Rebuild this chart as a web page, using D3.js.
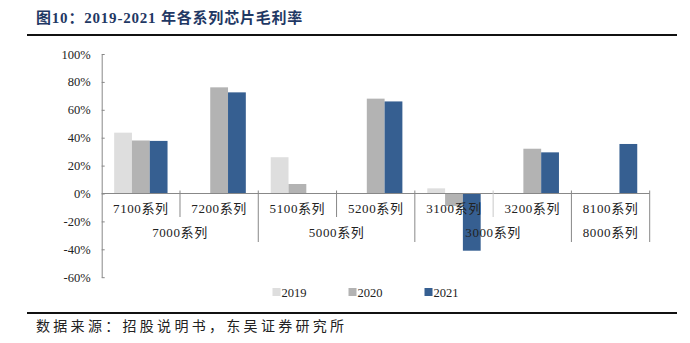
<!DOCTYPE html>
<html>
<head>
<meta charset="utf-8">
<script src="https://cdn.jsdelivr.net/npm/d3@7/dist/d3.min.js"></script>
<style>
  html, body { margin: 0; padding: 0; background: #fff; }
  svg { display: block; }
  text { font-family: "Liberation Serif", "Noto Sans CJK SC", serif; }
</style>
</head>
<body>
<svg id="chart" width="690" height="343"></svg>
<script>
// Gross margin by chip series, 2019-2021
const categories = ["7100系列", "7200系列", "5100系列", "5200系列", "3100系列", "3200系列", "8100系列"];
const groups = [
  { name: "7000系列", from: 0, to: 1 },
  { name: "5000系列", from: 2, to: 3 },
  { name: "3000系列", from: 4, to: 5 },
  { name: "8000系列", from: 6, to: 6 }
];
const years = ["2019", "2020", "2021"];
const values2019 = [0.436, null, 0.26, null, 0.037, null, null];
const values2020 = [0.38, 0.761, 0.068, 0.68, -0.09, 0.321, null];
const values2021 = [0.377, 0.725, null, 0.66, -0.41, 0.295, 0.355];
const yTicks = [-0.6, -0.4, -0.2, 0, 0.2, 0.4, 0.6, 0.8, 1.0];
const colors = ["#dedede", "#b3b3b3", "#365f91"];

const series = [values2019, values2020, values2021];
const svg = d3.select("#chart");

// Title and rules
svg.append("text")
  .attr("x", 36).attr("y", 23)
  .attr("font-size", 15).attr("font-weight", "bold")
  .attr("fill", "#1f3864")
  .attr("letter-spacing", 0.8)
  .text("图10：2019-2021 年各系列芯片毛利率");
svg.append("line").attr("x1", 27).attr("x2", 677).attr("y1", 35).attr("y2", 35)
  .attr("stroke", "#111").attr("stroke-width", 2);
svg.append("line").attr("x1", 27).attr("x2", 677).attr("y1", 313).attr("y2", 313)
  .attr("stroke", "#111").attr("stroke-width", 2);
svg.append("text")
  .attr("x", 36).attr("y", 331)
  .attr("font-size", 14).attr("letter-spacing", 3.3)
  .attr("fill", "#222")
  .text("数据来源：招股说明书，东吴证券研究所");

// Scales
const x = d3.scaleBand().domain(categories).range([101.7, 649.7]).padding(0);
const xi = d3.scaleBand().domain(years).range([0, x.bandwidth()]).paddingInner(0).paddingOuter(0.7);
const y = d3.scaleLinear().domain([-0.6, 1.0]).range([277.2, 54]);

// Y axis (ASCII hyphen for negatives)
const pct = v => `${Math.round(v * 100)}%`;
const yAxis = d3.axisLeft(y).tickValues(yTicks).tickFormat(pct).tickSizeInner(-3).tickSizeOuter(0).tickPadding(11);
const gy = svg.append("g").attr("transform", `translate(${x.range()[0]},0)`).call(yAxis);
gy.attr("font-family", null);
gy.select(".domain").attr("stroke", "#888");
gy.selectAll(".tick line").attr("stroke", "#888");
gy.selectAll(".tick text").attr("font-size", 12.5).attr("fill", "#222")
  .style("font-family", "'Liberation Serif', serif");

// Bars
years.forEach((yr, si) => {
  svg.append("g").selectAll("rect")
    .data(categories.map((c, i) => ({ c, v: series[si][i] })).filter(d => d.v !== null))
    .join("rect")
    .attr("x", d => x(d.c) + xi(yr))
    .attr("width", xi.bandwidth())
    .attr("y", d => y(Math.max(0, d.v)))
    .attr("height", d => Math.abs(y(d.v) - y(0)))
    .attr("fill", colors[si]);
});

// Zero baseline
svg.append("line")
  .attr("x1", x.range()[0]).attr("x2", x.range()[1])
  .attr("y1", y(0)).attr("y2", y(0))
  .attr("stroke", "#888");

// Category separators: short between series, long between groups
const y0 = y(0);
categories.forEach((c, i) => {
  if (i === 0) return;
  const isGroupEdge = groups.some(g => g.from === i);
  svg.append("line")
    .attr("x1", x(c)).attr("x2", x(c))
    .attr("y1", y0 - 3).attr("y2", isGroupEdge ? 242 : 217)
    .attr("stroke", i === 5 ? "#c8c8c8" : "#888");
});
svg.append("line")
  .attr("x1", x.range()[1]).attr("x2", x.range()[1])
  .attr("y1", y0 - 3).attr("y2", 242)
  .attr("stroke", "#888");

// Category labels
svg.append("g").selectAll("text")
  .data(categories).join("text")
  .attr("x", d => x(d) + x.bandwidth() / 2)
  .attr("y", 213)
  .attr("text-anchor", "middle")
  .attr("font-size", 13).attr("letter-spacing", 0.6)
  .attr("fill", "#222")
  .text(d => d);

// Group labels
svg.append("g").selectAll("text")
  .data(groups).join("text")
  .attr("x", d => (x(categories[d.from]) + x(categories[d.to]) + x.bandwidth()) / 2)
  .attr("y", 237)
  .attr("text-anchor", "middle")
  .attr("font-size", 13).attr("letter-spacing", 0.6)
  .attr("fill", "#222")
  .text(d => d.name);

// Legend
const legendX = [272.5, 348.5, 424.5];
const legend = svg.append("g").selectAll("g")
  .data(years).join("g")
  .attr("transform", (d, i) => `translate(${legendX[i]},288)`);
legend.append("rect").attr("width", 8).attr("height", 8)
  .attr("fill", (d, i) => colors[i]);
legend.append("text").attr("x", 9).attr("y", 8.5)
  .attr("font-size", 12.5).attr("fill", "#222")
  .text(d => d);
</script>
</body>
</html>
